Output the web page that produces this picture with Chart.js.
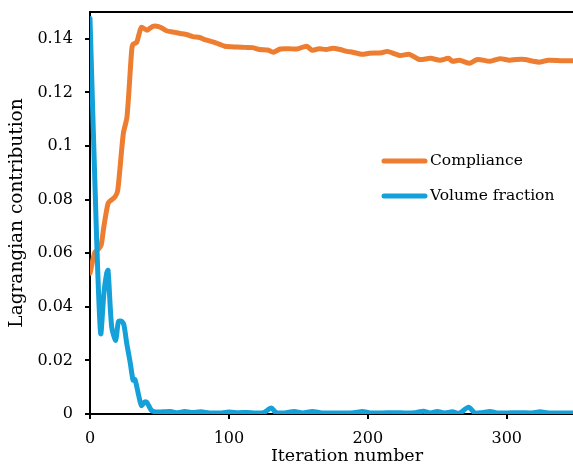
<!DOCTYPE html>
<html>
<head>
<meta charset="utf-8">
<script src="https://cdn.jsdelivr.net/npm/chart.js@4/dist/chart.umd.min.js"></script>
<style>
html,body{margin:0;padding:0;overflow:hidden;background:#fff;width:573px;height:473px;}
#wrap{position:absolute;left:0;top:0;width:610px;height:473px;}
</style>
</head>
<body>
<div id="wrap"><canvas id="c" width="610" height="473"></canvas></div>
<script>
// ---- data ----
const complianceIter = [0,3.5,6,8,10,13,15,18,20,24,26.6,30,31,33.6,37,41,45,48,51,55,60,65,70,74,79,82,86,89,93,97,102,106,112,117,122,128,132,137,143,149,156,160,165,170,175,180,185,189,196,201,210,214,223,230,237,245,252,258,261,266,273,279,288,295,302,307,313,319,324,330,340,350,360];
const complianceVal  = [0.0525,0.0604,0.0615,0.063,0.07,0.0786,0.0797,0.081,0.0835,0.1047,0.1107,0.1357,0.138,0.1387,0.1443,0.1432,0.1446,0.1447,0.1442,0.143,0.1425,0.142,0.1415,0.1408,0.1405,0.1398,0.1392,0.1388,0.138,0.1372,0.137,0.1369,0.1368,0.1367,0.136,0.1358,0.135,0.1362,0.1363,0.1362,0.1372,0.1357,0.1363,0.136,0.1365,0.136,0.1353,0.135,0.1342,0.1346,0.1348,0.1353,0.1338,0.1342,0.1323,0.1327,0.132,0.1327,0.1316,0.132,0.1309,0.1323,0.1316,0.1326,0.132,0.1323,0.1323,0.1316,0.1313,0.132,0.1318,0.1318,0.1318];
const volumeIter = [0,4.8,7.7,10,12,13,15.6,18.5,20.5,23,24.5,26.4,29,31,32.4,35,37,39.5,41,44,47,52,58,63,68,73,80,86,95,100,107,113,119,125,130.5,134,140,147,153,160,167,175,182,190,196,202,210,220,227,234,240,245,250,255,261,266,272.5,277,282,288,293,300,310,318,324,330,340,350,360];
const volumeVal  = [0.1476,0.065,0.030,0.045,0.0525,0.0536,0.0325,0.0275,0.0345,0.0345,0.033,0.0265,0.019,0.0126,0.0128,0.007,0.0032,0.0045,0.0043,0.0015,0.0008,0.0008,0.0009,0.0005,0.0009,0.0006,0.0008,0.0004,0.0004,0.0007,0.0005,0.0006,0.0004,0.0005,0.0022,0.0005,0.0004,0.0009,0.0004,0.0009,0.0004,0.0004,0.0004,0.0005,0.0009,0.0004,0.0004,0.0005,0.0004,0.0005,0.001,0.0004,0.0009,0.0004,0.0008,0.0003,0.0025,0.0004,0.0005,0.0009,0.0004,0.0004,0.0005,0.0004,0.0008,0.0004,0.0004,0.0004,0.0004];
const seriesNames = ['Compliance','Volume fraction'];
const xTitle = 'Iteration number';
const yTitle = 'Lagrangian contribution';

const ORANGE = '#ED7D31', BLUE = '#14A1DA';
const FONT = 'DejaVu Serif';

const toPts = (xs, ys) => xs.map((x, i) => ({x: x, y: ys[i]}));

const frame = {
  id: 'frame',
  afterDraw(chart) {
    const {ctx, chartArea} = chart;
    ctx.save();
    ctx.strokeStyle = '#000';
    ctx.lineWidth = 2;
    ctx.beginPath();
    ctx.moveTo(chartArea.left - 1, chartArea.top);
    ctx.lineTo(chartArea.right, chartArea.top);
    ctx.stroke();
    // legend
    const items = [[seriesNames[0], ORANGE, 161], [seriesNames[1], BLUE, 196]];
    ctx.lineCap = 'round';
    ctx.lineWidth = 5;
    ctx.font = '15.5px "' + FONT + '"';
    ctx.textBaseline = 'middle';
    ctx.fillStyle = '#000';
    items.forEach(([label, col, y]) => {
      ctx.strokeStyle = col;
      ctx.beginPath();
      ctx.moveTo(384, y);
      ctx.lineTo(425, y);
      ctx.stroke();
      ctx.fillText(label, 430, y);
    });
    ctx.restore();
  }
};

new Chart(document.getElementById('c'), {
  type: 'line',
  data: {
    datasets: [
      {label: seriesNames[0], data: toPts(complianceIter, complianceVal), borderColor: ORANGE, borderWidth: 5, pointRadius: 0, tension: 0.25, order: 2, borderJoinStyle: 'round', borderCapStyle: 'round'},
      {label: seriesNames[1], data: toPts(volumeIter, volumeVal), borderColor: BLUE, borderWidth: 5, pointRadius: 0, tension: 0.25, order: 1, borderJoinStyle: 'round', borderCapStyle: 'round'}
    ]
  },
  options: {
    responsive: false,
    animation: false,
    devicePixelRatio: 1,
    layout: {padding: {top: 12, right: 6, left: 0, bottom: 0}},
    plugins: {legend: {display: false}, tooltip: {enabled: false}},
    scales: {
      x: {
        type: 'linear', min: 0, max: 370,
        border: {display: true, color: '#000', width: 2},
        grid: {drawOnChartArea: false, drawTicks: true, tickLength: 5, color: '#000', lineWidth: 2},
        ticks: {stepSize: 100, includeBounds: false, color: '#000', padding: 10, font: {family: FONT, size: 16}, maxRotation: 0},
        title: {display: true, text: xTitle, color: '#000', font: {family: FONT, size: 17.5}, padding: {top: 2, bottom: 6}},
        afterFit(s) { s.height = 59; s.paddingLeft = 0; s.paddingRight = 0; }
      },
      y: {
        min: 0, max: 0.15,
        border: {display: true, color: '#000', width: 2},
        grid: {drawOnChartArea: false, drawTicks: true, tickLength: 5, color: '#000', lineWidth: 2},
        ticks: {stepSize: 0.02, includeBounds: false, color: '#000', padding: 12, font: {family: FONT, size: 16},
          callback: v => String(parseFloat(v.toFixed(2)))},
        title: {display: true, text: yTitle, color: '#000', font: {family: FONT, size: 18.5}, padding: {top: 6, bottom: 0}},
        afterFit(s) { s.width = 90; s.paddingTop = 0; s.paddingBottom = 0; }
      }
    }
  },
  plugins: [frame]
});
</script>
</body>
</html>
